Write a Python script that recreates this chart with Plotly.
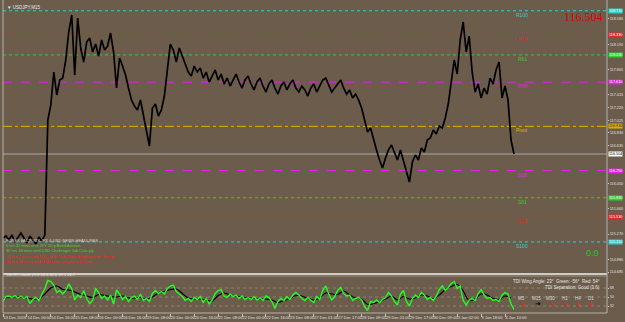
import plotly.graph_objects as go

# ---------------- data ----------------
symbol_title = "USDJPY,M15"
last_price = 116.504

# close price sampled every 8 bars (M15 -> 2 hours)
price = [
    115.210, 115.241, 115.180, 115.257, 115.149, 115.226, 115.287, 115.210, 115.133, 115.241,
    115.180, 115.118, 115.226, 115.164, 115.257, 117.028, 117.259, 117.767, 117.413, 117.644,
    117.674, 117.952, 118.383, 118.645, 117.721, 118.598, 118.136, 117.921, 118.229, 118.290,
    118.075, 118.198, 118.013, 118.260, 118.106, 118.167, 118.367, 118.075, 117.520, 117.982,
    117.859, 117.721, 117.520, 117.336, 117.243, 117.182, 117.336, 117.089, 116.874, 116.627,
    117.212, 117.274, 117.089, 117.182, 117.397, 117.798, 118.198, 118.106, 117.921, 118.136,
    118.013, 117.921, 117.767, 117.705, 117.859, 117.767, 117.828, 117.674, 117.767, 117.613,
    117.705, 117.798, 117.644, 117.736, 117.582, 117.674, 117.551, 117.644, 117.736, 117.613,
    117.520, 117.644, 117.705, 117.582, 117.490, 117.613, 117.674, 117.551, 117.459, 117.582,
    117.644, 117.520, 117.428, 117.551, 117.613, 117.490, 117.582, 117.644, 117.520, 117.459,
    117.551, 117.490, 117.397, 117.520, 117.582, 117.459, 117.551, 117.644, 117.674, 117.551,
    117.459, 117.520, 117.582, 117.644, 117.520, 117.428, 117.490, 117.366, 117.428, 117.336,
    117.212, 117.028, 116.843, 116.904, 116.720, 116.566, 116.412, 116.288, 116.442, 116.566,
    116.643, 116.535, 116.412, 116.566, 116.412, 116.227, 116.073, 116.381, 116.489, 116.412,
    116.596, 116.535, 116.720, 116.750, 116.874, 116.812, 116.935, 116.904, 117.058, 117.274,
    117.582, 117.952, 117.736, 118.260, 118.537, 118.075, 118.321, 117.767, 117.459, 117.582,
    117.366, 117.520, 117.428, 117.674, 117.582, 117.798, 117.921, 117.366, 117.551, 117.336,
    116.720, 116.504,
]
price_step = 8  # bars between samples

# TDI green (RSI price line), same sampling
tdi_green = [
    41, 51, 52, 49, 53, 48, 52, 47, 51, 37, 45, 49, 43, 54, 67, 83, 81, 74, 59, 63,
    56, 63, 76, 67, 44, 54, 49, 63, 47, 37, 43, 67, 59, 47, 52, 44, 54, 36, 64, 56,
    45, 51, 41, 49, 52, 45, 56, 43, 47, 41, 57, 63, 57, 61, 56, 67, 72, 74, 61, 56,
    51, 43, 47, 41, 49, 45, 51, 39, 47, 36, 44, 57, 63, 65, 52, 49, 56, 51, 54, 47,
    52, 45, 49, 45, 51, 44, 48, 43, 52, 49, 41, 27, 41, 47, 43, 51, 45, 54, 59, 54,
    47, 43, 49, 43, 39, 51, 45, 63, 72, 56, 44, 51, 63, 69, 57, 52, 54, 43, 47, 49,
    44, 31, 23, 41, 39, 44, 39, 45, 49, 59, 52, 41, 34, 56, 63, 41, 32, 47, 54, 49,
    59, 54, 45, 49, 43, 52, 65, 72, 63, 69, 77, 81, 67, 72, 43, 34, 44, 47, 43, 57,
    65, 54, 47, 49, 43, 45, 41, 54, 59, 56, 36, 25,
]
# TDI signal (black), sampled every 16 bars
tdi_signal = [
    47, 49, 50, 50, 48, 46, 47, 56, 68, 72, 65, 64, 60, 55, 52, 49, 55, 53, 51, 50,
    52, 48, 48, 49, 46, 50, 58, 61, 65, 66, 57, 48, 46, 46, 44, 42, 53, 58, 54, 52,
    50, 48, 48, 46, 46, 44, 39, 43, 47, 53, 52, 47, 44, 48, 58, 56, 55, 62, 54, 48,
    46, 35, 37, 41, 46, 52, 44, 51, 46, 48, 54, 52, 47, 54, 65, 71, 75, 62, 43, 46,
    56, 54, 47, 45, 52, 48,
]
signal_step = 16

date_labels = [
    "13 Dec 2016", "14 Dec 00:00", "14 Dec 16:00", "15 Dec 08:00", "16 Dec 00:00",
    "16 Dec 16:00", "19 Dec 08:00", "20 Dec 00:00", "20 Dec 16:00", "21 Dec 08:00",
    "22 Dec 00:00", "22 Dec 16:00", "23 Dec 08:00", "27 Dec 01:00", "27 Dec 17:00",
    "28 Dec 09:00", "29 Dec 01:00", "29 Dec 17:00", "30 Dec 09:00", "3 Jan 02:00",
    "3 Jan 18:00", "4 Jan 10:00",
]
date_label_step = 64  # bars between date labels

price_ticks = [114.685, 114.880, 115.270, 115.660, 116.050, 116.635, 116.830, 117.025,
               117.220, 117.415, 117.805, 118.195, 118.585]

level_names = ["R100", "R78", "R61", "R38", "Pivot", "S38", "S61", "S78", "S100"]
level_values = [118.71, 118.33, 118.03, 117.61, 116.93, 116.25, 115.83, 115.53, 115.15]
level_colors = ["#2fd0d0", "#e02828", "#2ed12e", "#e024e0", "#e0b000",
                "#e024e0", "#2ed12e", "#e02828", "#2fd0d0"]
level_dash = ["dot", "dot", "dot", "dash", "dashdot", "dash", "dot", "dot", "dot"]
level_box_font = ["#ffffff", "#ffffff", "#ffffff", "#ffffff", "#202020",
                  "#ffffff", "#ffffff", "#ffffff", "#ffffff"]

news_lines = [
    ("FOREX FACTORY JPY & USD NEWS HEADLINES", "#d8d8d8"),
    ("6 hrs 32 mins until JPY 10-y Bond Auction", "#33dd33"),
    ("30 hrs 18 mins until USD Challenger Job Cuts y/y", "#33dd33"),
    ("31 hrs 3 mins until USD ADP Non-Farm Employment Change", "#ff2020"),
    ("31 hrs 18 mins until USD Unemployment Claims", "#ff2020"),
]

tdi_title = "TDI-RT-Clone 29.8 24.6 42.0 29.1 22.7"
tdi_info = ["TDI Wing Angle: 23°  Green: -56°  Red: 54°", "TDI Separation: Good (3.6)"]
tf_names = ["M5", "M15", "M30", "H1", "H4", "D1"]
tf_arrows = ["↘", "➜", "↘", "↘", "↓", "↓"]
tf_colors = ["#ff1a1a", "#000000", "#ff1a1a", "#ff1a1a", "#ff1a1a", "#ff1a1a"]
tdi_levels = [68, 50, 32]

# ---------------- layout helpers ----------------
W, H = 625, 322
ML, MR, MT, MB = 3, 18, 0, 9
PW, PH = W - ML - MR, H - MT - MB
BG = "#6b5c4c"
FONT = "Liberation Sans"
AXFS = 3.8


def py(ypix):  # pixel row -> paper y
    return (PH - (ypix - MT)) / PH


def px(xpix):  # pixel column -> paper x
    return (xpix - ML) / PW


main_bottom_pix = 274
tdi_top_pix = 276
x_max = 1617

fig = go.Figure()

price_x = [i * price_step for i in range(len(price))]
fig.add_trace(go.Scatter(x=price_x, y=price, mode="lines",
                         line=dict(color="#000000", width=1.7),
                         xaxis="x", yaxis="y", hoverinfo="skip"))

green_x = [i * price_step for i in range(len(tdi_green))]
sig_x = [i * signal_step for i in range(len(tdi_signal))]
fig.add_trace(go.Scatter(x=sig_x, y=tdi_signal, mode="lines",
                         line=dict(color="#000000", width=1.2, shape="spline"),
                         xaxis="x2", yaxis="y2", hoverinfo="skip"))
fig.add_trace(go.Scatter(x=green_x, y=tdi_green, mode="lines",
                         line=dict(color="#22ff22", width=1.4),
                         xaxis="x2", yaxis="y2", hoverinfo="skip"))

shapes = []
annotations = []

# level lines + labels + axis boxes
for name, val, col, dash, fcol in zip(level_names, level_values, level_colors,
                                      level_dash, level_box_font):
    shapes.append(dict(type="line", xref="x domain", yref="y", x0=0, x1=1, y0=val, y1=val,
                       line=dict(color=col, width=1, dash=dash), layer="below"))
    annotations.append(dict(x=1390, y=val, xref="x", yref="y", text=name, showarrow=False,
                            yshift=-4, font=dict(family=FONT, size=5, color=col)))
    annotations.append(dict(x=1.0, y=val, xref="paper", yref="y", text=f"{val:.3f}",
                            showarrow=False, xanchor="left", xshift=1,
                            bgcolor=col, borderpad=0,
                            font=dict(family=FONT, size=AXFS, color=fcol)))

# current price line and box
shapes.append(dict(type="line", xref="x domain", yref="y", x0=0, x1=1,
                   y0=last_price, y1=last_price, line=dict(color="#a8a8a8", width=1),
                   layer="below"))
annotations.append(dict(x=1.0, y=last_price, xref="paper", yref="y", text=f"{last_price:.3f}",
                        showarrow=False, xanchor="left", xshift=1, bgcolor="#ffffff",
                        borderpad=0, font=dict(family=FONT, size=AXFS, color="#000000")))

# TDI levels
for lv in tdi_levels:
    shapes.append(dict(type="line", xref="x2 domain", yref="y2", x0=0, x1=1, y0=lv, y1=lv,
                       line=dict(color="#8f8171", width=1, dash="dot"), layer="below"))

# panel separators / borders
shapes.append(dict(type="line", xref="paper", yref="paper", x0=0, x1=1,
                   y0=py(main_bottom_pix), y1=py(main_bottom_pix),
                   line=dict(color="#f0f0f0", width=1.5)))
shapes.append(dict(type="line", xref="paper", yref="paper", x0=0, x1=1,
                   y0=py(tdi_top_pix), y1=py(tdi_top_pix),
                   line=dict(color="#a09080", width=1)))
shapes.append(dict(type="line", xref="paper", yref="paper", x0=1, x1=1, y0=0, y1=1,
                   line=dict(color="#b8b0a8", width=1)))
shapes.append(dict(type="line", xref="paper", yref="paper", x0=0, x1=0, y0=0, y1=1,
                   line=dict(color="#b8b0a8", width=1)))
shapes.append(dict(type="line", xref="paper", yref="paper", x0=0, x1=1, y0=0, y1=0,
                   line=dict(color="#b8b0a8", width=1)))

# texts
annotations.append(dict(x=px(5), y=py(3), xref="paper", yref="paper",
                        text="▼ " + symbol_title, showarrow=False, xanchor="left",
                        font=dict(family=FONT, size=4.5, color="#e8e8e8")))
annotations.append(dict(x=px(605), y=py(8), xref="paper", yref="paper",
                        text=f"{last_price:.3f}", showarrow=False, xanchor="right",
                        font=dict(family="Liberation Serif", size=12, color="#dd0000")))
annotations.append(dict(x=px(601), y=py(260), xref="paper", yref="paper", text="0.0",
                        showarrow=False, xanchor="right",
                        font=dict(family=FONT, size=9, color="#22cc22")))
for k, (txt, col) in enumerate(news_lines):
    annotations.append(dict(x=px(4), y=py(245 + 5.2 * k), xref="paper", yref="paper",
                            text=txt, showarrow=False, xanchor="left",
                            font=dict(family=FONT, size=4, color=col)))
annotations.append(dict(x=px(4), y=py(279), xref="paper", yref="paper", text=tdi_title,
                        showarrow=False, xanchor="left",
                        font=dict(family=FONT, size=4, color="#e8e8e8")))
for k, txt in enumerate(tdi_info):
    annotations.append(dict(x=px(602), y=py(286 + 6 * k), xref="paper", yref="paper",
                            text=txt, showarrow=False, xanchor="right",
                            font=dict(family=FONT, size=4.5, color="#e8e8e8")))
tf_x = [527, 543, 557, 570, 583, 596]
for name, arr, col, xx in zip(tf_names, tf_arrows, tf_colors, tf_x):
    annotations.append(dict(x=px(xx), y=py(303), xref="paper", yref="paper", text=name,
                            showarrow=False, font=dict(family=FONT, size=4.5, color="#dcdcdc")))
    annotations.append(dict(x=px(xx), y=py(310), xref="paper", yref="paper", text=arr,
                            showarrow=False, font=dict(family="DejaVu Sans", size=7, color=col)))

y_main_range = [114.656, 118.876]
main_dom = [py(main_bottom_pix), 1]
tdi_dom = [0, py(tdi_top_pix)]

fig.update_layout(
    width=W, height=H, margin=dict(l=ML, r=MR, t=MT, b=MB, autoexpand=False),
    paper_bgcolor=BG, plot_bgcolor=BG, showlegend=False,
    shapes=shapes, annotations=annotations,
    xaxis=dict(domain=[0, 1], range=[0, x_max], showgrid=False, zeroline=False,
               showticklabels=False, anchor="y", automargin=False),
    yaxis=dict(domain=main_dom, range=y_main_range, side="right", showgrid=False,
               zeroline=False, tickvals=price_ticks, tickformat=".3f",
               ticks="outside", ticklen=1, tickcolor="#c8c8c8", automargin=False,
               ticklabelstandoff=0,
               tickfont=dict(family=FONT, size=AXFS, color="#e0e0e0"), anchor="x"),
    xaxis2=dict(domain=[0, 1], range=[0, x_max], showgrid=False, zeroline=False,
                tickvals=[k * date_label_step for k in range(len(date_labels))],
                ticktext=date_labels, ticklabelposition="outside right", tickangle=0,
                ticks="outside", ticklen=3, tickcolor="#c8c8c8", automargin=False,
                tickfont=dict(family=FONT, size=4, color="#e0e0e0"), anchor="y2"),
    yaxis2=dict(domain=tdi_dom, range=[18, 92], side="right", showgrid=False,
                zeroline=False, tickvals=tdi_levels, ticks="outside", ticklen=1,
                tickcolor="#c8c8c8", automargin=False, ticklabelstandoff=0,
                tickfont=dict(family=FONT, size=AXFS, color="#e0e0e0"), anchor="x2"),
)

fig.write_html("out.html")
